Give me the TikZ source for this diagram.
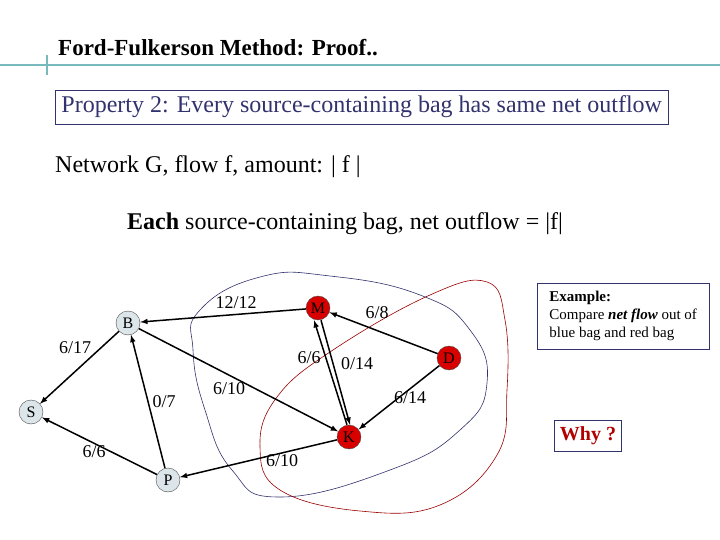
\documentclass[tikz,border=0pt]{standalone}
\usepackage{fontspec}
\setmainfont{Liberation Serif}
\begin{document}
\begin{tikzpicture}[x=1pt,y=-1pt,
  vb/.style={circle,draw=black!70,fill=cyan!25!gray!25,inner sep=0pt,minimum size=24pt,font=\fontsize{16}{16}\selectfont},
  vr/.style={vb,fill=red!85!black},
  ed/.style={-latex,line width=1.5pt},
  lab/.style={font=\fontsize{18}{18}\selectfont,inner sep=0pt}]
\useasboundingbox (0,0) rectangle (720,540);
\definecolor{teal1}{RGB}{120,185,190}
\definecolor{navy1}{RGB}{50,50,110}
\draw[teal1,line width=2pt] (0,65) -- (720,65);
\draw[teal1,line width=1.5pt] (47,55) -- (47,75);
\node[anchor=west,font=\bfseries\fontsize{23}{23}\selectfont,inner sep=0pt] (title) at (58,48) {Ford-Fulkerson Method: Proof..};
\node[draw=navy1,anchor=west,text=navy1,font=\fontsize{24}{24}\selectfont,minimum height=34pt,minimum width=613pt,inner sep=2pt] (prop) at (55,107) {Property 2: Every source-containing bag has same net outflow};
\node[anchor=west,font=\fontsize{24}{24}\selectfont,inner sep=0pt] (net) at (55,167) {Network G, flow f, amount: | f |};
\node[anchor=west,font=\fontsize{24}{24}\selectfont,inner sep=0pt] (each) at (127,224) {\textbf{Each} source-containing bag, net outflow = |f|};
% bags
\draw[navy1,line width=0.6pt] plot[smooth cycle,tension=0.8] coordinates {(200,310) (260,277) (330,276) (420,295) (470,330) (487,383) (460,430) (390,470) (280,497) (232,470) (205,410) (193,350)};
\draw[red!60!black,line width=0.6pt] plot[smooth cycle,tension=0.7] coordinates {(487,282) (505,320) (507,390) (497,455) (440,505) (360,511) (280,490) (260,447) (277,397) (333,350) (430,295)};
% nodes
\node[vb] (B) at (128,323) {B};
\node[vr] (M) at (318,308) {M};
\node[vr] (D) at (449,358) {D};
\node[vr] (K) at (349,437) {K};
\node[vb] (S) at (31,412) {S};
\node[vb] (P) at (168,480) {P};
% edges
\draw[ed] (M) -- (B);
\draw[ed] (D) -- (M);
\draw[ed] (B) -- (S);
\draw[ed] (B) -- (K);
\draw[ed] (P) -- (B);
\draw[ed] (P) -- (S);
\draw[ed] (K) -- (P);
\draw[ed] (D) -- (K);
\draw[ed] ([xshift=-2pt]K.north) -- ([xshift=-4pt]M.south);
\draw[ed] ([xshift=3pt]M.south) -- ([xshift=1pt]K.north);
% labels
\node[lab] (l1) at (236,303) {12/12};
\node[lab] (l2) at (377,313) {6/8};
\node[lab] (l3) at (75,348) {6/17};
\node[lab] (l4) at (309,358) {6/6};
\node[lab] (l5) at (357,364) {0/14};
\node[lab] (l6) at (229,389) {6/10};
\node[lab] (l7) at (164,402) {0/7};
\node[lab] (l8) at (410,398) {6/14};
\node[lab] (l9) at (94,452) {6/6};
\node[lab] (l10) at (282,461) {6/10};
% boxes
\node[draw=navy1,anchor=north west,align=left,minimum width=172pt,minimum height=66pt,font=\fontsize{15}{18}\selectfont,inner sep=5pt] (ex) at (537,283) {\textbf{Example:}\\Compare \textbf{\textit{net flow}} out of\\blue bag and red bag};
\node[draw=navy1,minimum width=67pt,minimum height=31pt,text=red!70!black,font=\bfseries\fontsize{20}{20}\selectfont] (why) at (588,436) {Why ?};
\end{tikzpicture}
\end{document}
